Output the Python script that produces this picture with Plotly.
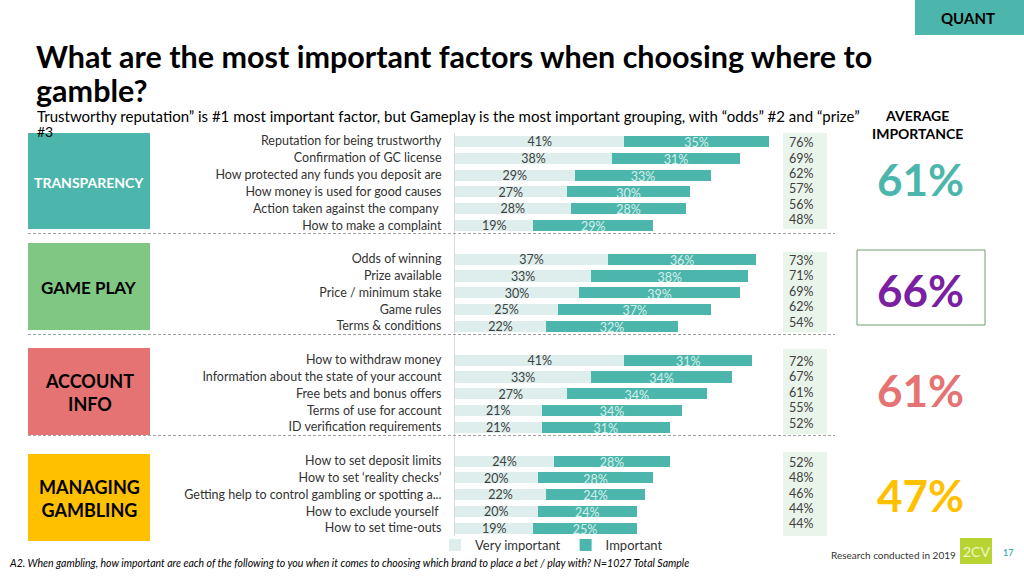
import plotly.graph_objects as go

# ---------------- data ----------------
group_names = ["TRANSPARENCY", "GAME PLAY", "ACCOUNT<br>INFO", "MANAGING<br>GAMBLING"]
group_avg = [61, 66, 61, 47]

transparency_items = ["Reputation for being trustworthy", "Confirmation of GC license",
                      "How protected any funds you deposit are", "How money is used for good causes",
                      "Action taken against the company ", "How to make a complaint"]
transparency_very = [41, 38, 29, 27, 28, 19]
transparency_imp = [35, 31, 33, 30, 28, 29]
transparency_total = [76, 69, 62, 57, 56, 48]

gameplay_items = ["Odds of winning", "Prize available", "Price / minimum stake",
                  "Game rules", "Terms & conditions"]
gameplay_very = [37, 33, 30, 25, 22]
gameplay_imp = [36, 38, 39, 37, 32]
gameplay_total = [73, 71, 69, 62, 54]

account_items = ["How to withdraw money", "Information about the state of your account",
                 "Free bets and bonus offers", "Terms of use for account",
                 "ID verification requirements"]
account_very = [41, 33, 27, 21, 21]
account_imp = [31, 34, 34, 34, 31]
account_total = [72, 67, 61, 55, 52]

managing_items = ["How to set deposit limits", "How to set \u2018reality checks\u2019",
                  "Getting help to control gambling or spotting a...", "How to exclude yourself ",
                  "How to set time-outs"]
managing_very = [24, 20, 22, 20, 19]
managing_imp = [28, 28, 24, 24, 25]
managing_total = [52, 48, 46, 44, 44]

series_names = ["Very important", "Important"]

# ---------------- styling ----------------
FONT = "Lato"
TEAL = "#4db6ac"
LIGHT = "#ddeeec"
TXT = "#404040"
group_colors = ["#4db6ac", "#81c784", "#e57373", "#ffc000"]
group_text_colors = ["white", "black", "black", "black"]
avg_colors = ["#4db6ac", "#7b1fa2", "#e57373", "#ffc000"]

W, H = 1024, 576
def px(x): return x / W
def py(y): return 1 - y / H

groups = [
    (transparency_items, transparency_very, transparency_imp, transparency_total),
    (gameplay_items, gameplay_very, gameplay_imp, gameplay_total),
    (account_items, account_very, account_imp, account_total),
    (managing_items, managing_very, managing_imp, managing_total),
]

labels, pos, very, imp, total = [], [], [], [], []
group_start, group_end = [], []
p = 0
for items, v, i, t in groups:
    group_start.append(p)
    for k in range(len(items)):
        labels.append(items[k]); pos.append(p); very.append(v[k]); imp.append(i[k]); total.append(t[k])
        p += 1
    group_end.append(p - 1)
    p += 1
last_slot = pos[-1]

fig = go.Figure()
fig.add_trace(go.Bar(orientation="h", y=pos, x=very, name=series_names[0],
                     marker=dict(color=LIGHT, line=dict(width=0)), width=0.66, hoverinfo="skip"))
fig.add_trace(go.Bar(orientation="h", y=pos, x=imp, name=series_names[1],
                     marker=dict(color=TEAL, line=dict(width=0)), width=0.66, hoverinfo="skip"))

# value labels
fig.add_trace(go.Scatter(x=[v / 2 for v in very], y=[q + 0.12 for q in pos], mode="text",
                         text=[f"{v}%" for v in very], textposition="middle center",
                         textfont=dict(family=FONT, size=12.5, color=TXT),
                         showlegend=False, hoverinfo="skip"))
fig.add_trace(go.Scatter(x=[v + i / 2 for v, i in zip(very, imp)], y=[q + 0.18 for q in pos],
                         mode="text", text=[f"{i}%" for i in imp], textposition="middle center",
                         textfont=dict(family=FONT, size=12.5, color="#d6efeb"),
                         showlegend=False, hoverinfo="skip"))

X_LEFT = 455
PX_PER = 4.13
XMAX = 80
Y_TOP = 141 - 0.5 * 16.83
Y_BOT = 528 + 0.5 * 16.83

shapes = []
annotations = []

def ann(x, y, text, size, color="black", xanchor="center", yref="paper", yval=None):
    annotations.append(dict(xref="paper", yref=yref, x=px(x),
                            y=(py(y) if yref == "paper" else yval),
                            xanchor=xanchor, yanchor="middle", text=text, showarrow=False,
                            font=dict(family=FONT, size=size, color=color)))

# separators
for e in group_end[:-1]:
    shapes.append(dict(type="line", xref="paper", yref="y", x0=px(28), x1=px(835),
                       y0=e + 0.5, y1=e + 0.5, line=dict(color="#a0a0a0", width=1, dash="3px,2px")))

# left group boxes and totals background
box_px = [(133, 229), (243, 330), (348, 435), (454, 541)]
tot_px = [(133, 229), (252, 332), (349, 434), (452, 536)]
for g in range(4):
    y0, y1 = box_px[g]
    shapes.append(dict(type="rect", xref="paper", yref="paper", x0=px(28), x1=px(150),
                       y0=py(y1), y1=py(y0), fillcolor=group_colors[g], line=dict(width=0), layer="below"))
    fs = 14 if g == 0 else (17 if g == 1 else 18)
    ann(89, (y0 + y1) / 2 + 1, f"<b>{group_names[g]}</b>", fs, group_text_colors[g])
    t0, t1 = tot_px[g]
    shapes.append(dict(type="rect", xref="paper", yref="paper", x0=px(783), x1=px(827),
                       y0=py(t1), y1=py(t0), fillcolor="#e9f4ea", line=dict(width=0), layer="below"))

# totals
for g, (items, v, i, t) in enumerate(groups):
    for j in range(len(items)):
        ann(801, None, f"{t[j]}%", 12.5, TXT, yref="y", yval=group_start[g] + 0.1 + j * 0.915)

# average importance
ann(917, 125, "<b>AVERAGE<br>IMPORTANCE</b>", 14)
avg_y = [179, 290, 390, 495]
for g in range(4):
    ann(920, avg_y[g], f"<b>{group_avg[g]}%</b>", 44, avg_colors[g])
shapes.append(dict(type="rect", xref="paper", yref="paper", x0=px(857), x1=px(985),
                   y0=py(325), y1=py(250), line=dict(color="#6f9f6f", width=1)))

# title and subtitle
ann(34, 56, "<b>What are the most important factors when choosing where to</b>", 30.5, xanchor="left")
ann(34, 90, "<b>gamble?</b>", 30.5, xanchor="left")
ann(35, 116, "Trustworthy reputation\u201d is #1 most important factor, but Gameplay is the most important grouping, with \u201codds\u201d #2 and \u201cprize\u201d",
    15, xanchor="left")
ann(35, 131, "#3", 14, xanchor="left")

# QUANT tag
shapes.append(dict(type="rect", xref="paper", yref="paper", x0=px(915), x1=1, y0=py(35), y1=1,
                   fillcolor=TEAL, line=dict(width=0)))
ann(968, 18, "<b>QUANT</b>", 15)

# footer
ann(7, 563, "<i>A2. When gambling, how important are each of the following to you when it comes to choosing which brand to place a bet / play with? N=1027 Total Sample</i>",
    10.5, xanchor="left")
ann(829, 555, "Research conducted in 2019", 10, "#333333", xanchor="left")
shapes.append(dict(type="rect", xref="paper", yref="paper", x0=px(960), x1=px(992),
                   y0=py(564), y1=py(538), fillcolor="#b8d433", line=dict(width=0)))
ann(976, 551, "2CV", 14, "#eef6c8")
ann(1008, 552, "<b>17</b>", 9, TEAL)

fig.update_layout(
    width=W, height=H, margin=dict(l=0, r=0, t=0, b=0, autoexpand=False),
    paper_bgcolor="white", plot_bgcolor="white",
    barmode="stack", bargap=0,
    font=dict(family=FONT, color=TXT),
    xaxis=dict(domain=[px(X_LEFT), px(X_LEFT + XMAX * PX_PER)], range=[0, XMAX],
               visible=False, fixedrange=True),
    yaxis=dict(domain=[py(Y_BOT), py(Y_TOP)], range=[last_slot + 0.5, -0.5],
               tickmode="array", tickvals=pos, ticktext=labels, ticks="",
               showline=True, linecolor="#d9d9d9", linewidth=1, showgrid=False, zeroline=False,
               tickfont=dict(family=FONT, size=12.5, color="#333333"), ticklabelstandoff=10,
               fixedrange=True, automargin=False),
    legend=dict(orientation="h", x=px(435), y=py(545), xanchor="left", yanchor="middle",
                font=dict(family=FONT, size=13, color="#333333"), itemwidth=30,
                bgcolor="rgba(0,0,0,0)", traceorder="normal"),
    shapes=shapes, annotations=annotations,
)

fig.write_html("out.html", config={"displayModeBar": False},
               post_script="document.body.style.margin='0px';")
